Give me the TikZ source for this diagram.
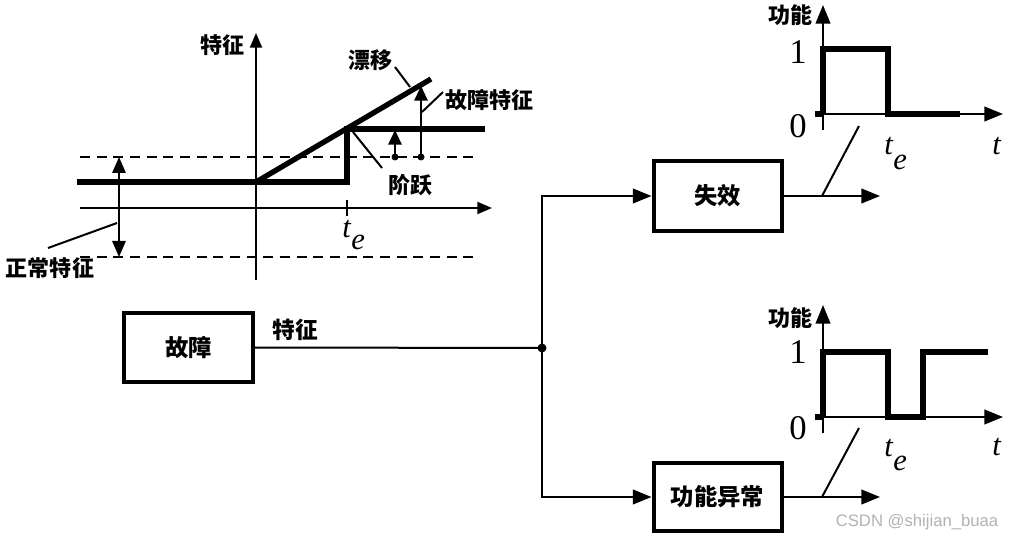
\documentclass[tikz,border=0pt]{standalone}
\usepackage{fontspec}
\setmainfont{Liberation Serif}
\newfontfamily\cjk{Noto Sans CJK SC}
\newfontfamily\wmfont{Liberation Sans}
\usetikzlibrary{arrows.meta}
\tikzset{
  ln/.style={line width=1.5pt},
  fn/.style={line width=4pt},
  dsh/.style={line width=1.5pt, dash pattern=on 7.5pt off 5pt},
  bigtip/.style={-{Triangle[length=14pt,width=11pt]}},
  smtip/.style={-{Triangle[length=11pt,width=9pt]}},
  blk/.style={draw, line width=3pt, fill=white, font=\cjk\bfseries\fontsize{17.5}{19}\selectfont, inner sep=0pt},
  lbl/.style={font=\cjk\bfseries\fontsize{16.5}{18}\selectfont, inner sep=0pt},
  num/.style={font=\fontsize{26}{26}\selectfont, inner sep=0pt},
  tt/.style={font=\fontsize{23}{23}\selectfont\itshape, inner sep=0pt, anchor=base west},
  tes/.style={font=\fontsize{23}{23}\selectfont, inner sep=0pt, anchor=base west},
}
\newcommand{\tesub}[1]{\textit{t}\raisebox{-#1}{\textit{e}}}
\begin{document}
\begin{tikzpicture}[x=0.75pt,y=-0.75pt]
\useasboundingbox (0,0) rectangle (1013,541);

% ---------- top-left feature plot ----------
\coordinate (yb) at (256,280); \coordinate (yt) at (256,33);
\coordinate (xl) at (80,208);  \coordinate (xr) at (492,208);
\draw[ln,smtip] (yb) -- (yt);
\draw[ln,smtip] (xl) -- (xr);
\coordinate (tk1) at (347,200); \coordinate (tk2) at (347,216);
\draw[ln] (tk1) -- (tk2);
\coordinate (du1) at (80,157); \coordinate (du2) at (475,157);
\coordinate (dl1) at (80,257); \coordinate (dl2) at (475,257);
\draw[dsh] (du1) -- (du2);
\draw[dsh] (dl1) -- (dl2);
\coordinate (f0) at (77,182); \coordinate (f1) at (347,182);
\coordinate (f2) at (347,129); \coordinate (f3) at (485,129);
\draw[fn, line join=miter] (f0) -- (f1) -- (f2) -- (f3);
\coordinate (o) at (256,182); \coordinate (dr) at (431,79);
\draw[fn] (o) -- (dr);
\coordinate (da1) at (119,157); \coordinate (da2) at (119,257);
\draw[ln,{Triangle[length=12pt,width=10pt]}-{Triangle[length=12pt,width=10pt]}] (da1) -- (da2);
\coordinate (s0) at (395,157); \coordinate (s1) at (395,130);
\draw[ln,-{Triangle[length=11pt,width=10pt]}] (s0) -- (s1);
\fill (s0) circle (3.5);
\coordinate (b0) at (421,157); \coordinate (b1) at (421,86);
\draw[ln,-{Triangle[length=11pt,width=10pt]}] (b0) -- (b1);
\fill (b0) circle (3.5);

\node[lbl] (lf) at (222,45) {特征};
\node[lbl] (ldr) at (370,60) {漂移};
\node[lbl] (lgz) at (489,100) {故障特征};
\node[lbl] (ljy) at (410,185) {阶跃};
\node[lbl] (lzc) at (50,268) {正常特征};
\node[tes] (te0) at (342,238) {\tesub{9pt}};

\coordinate (c1) at (48,248); \coordinate (c2) at (117,223);
\draw[ln] (c1) -- (c2);
\coordinate (c3) at (395,67); \coordinate (c4) at (410,87);
\draw[ln] (c3) -- (c4);
\coordinate (c5) at (443,92); \coordinate (c6) at (422,112);
\draw[ln] (c5) -- (c6);
\coordinate (c7) at (353,132); \coordinate (c8) at (382,168);
\draw[ln] (c7) -- (c8);

% ---------- block diagram ----------
\node[blk, minimum width=97pt, minimum height=51pt] (gz) at (188.5,347.5) {故障};
\node[blk, minimum width=96pt, minimum height=52pt] (sx) at (717.5,196) {失效};
\node[blk, minimum width=96pt, minimum height=51pt] (yc) at (717.5,497) {功能异常};
\coordinate (j) at (542,348);
\draw[ln] (gz.east) -- (j);
\fill (j) circle (4.5);
\draw[ln,bigtip] (j) |- (sx.west);
\draw[ln,bigtip] (j) |- (yc.west);
\node[lbl, font=\cjk\bfseries\fontsize{17}{18}\selectfont] (lfeat) at (295,330) {特征};

\coordinate (o1) at (880,196);
\draw[ln,bigtip] (sx.east) -- (o1);
\coordinate (o2) at (880,497);
\draw[ln,bigtip] (yc.east) -- (o2);
\coordinate (m1a) at (822,196); \coordinate (m1b) at (859,126);
\draw[ln] (m1a) -- (m1b);
\coordinate (m2a) at (822,497); \coordinate (m2b) at (859,428);
\draw[ln] (m2a) -- (m2b);

% ---------- function plot 1 ----------
\coordinate (p1yb) at (823,130); \coordinate (p1yt) at (823,5);
\coordinate (p1xl) at (815,114); \coordinate (p1xr) at (1003,114);
\draw[ln,bigtip] (p1yb) -- (p1yt);
\draw[ln,bigtip] (p1xl) -- (p1xr);
\coordinate (q0) at (823,114); \coordinate (q1) at (823,49);
\coordinate (q2) at (888,49); \coordinate (q3) at (888,114); \coordinate (q4) at (960,114);
\draw[fn, line join=miter] (q0) -- (q1) -- (q2) -- (q3) -- (q4);
\coordinate (q5) at (815,114);
\draw[fn] (q5) -- (q0);
\node[lbl] (pf1) at (790,15) {功能};
\node[num] (one1) at (798,52) {1};
\node[num] (zero1) at (798,126) {0};
\node[tes] (te1) at (884,155) {\tesub{11pt}};
\node[tt] (tt1) at (992,155) {t};

% ---------- function plot 2 ----------
\coordinate (p2yb) at (823,433); \coordinate (p2yt) at (823,305);
\coordinate (p2xl) at (815,417); \coordinate (p2xr) at (1003,417);
\draw[ln,bigtip] (p2yb) -- (p2yt);
\draw[ln,bigtip] (p2xl) -- (p2xr);
\coordinate (r0) at (823,417); \coordinate (r1) at (823,352);
\coordinate (r2) at (888,352); \coordinate (r3) at (888,417);
\coordinate (r4) at (923,417); \coordinate (r5) at (923,352); \coordinate (r6) at (988,352);
\draw[fn, line join=miter] (r0) -- (r1) -- (r2) -- (r3) -- (r4) -- (r5) -- (r6);
\coordinate (r7) at (815,417);
\draw[fn] (r7) -- (r0);
\node[lbl] (pf2) at (790,318) {功能};
\node[num] (one2) at (798,352) {1};
\node[num] (zero2) at (798,428) {0};
\node[tes] (te2) at (884,456) {\tesub{11pt}};
\node[tt] (tt2) at (992,455) {t};

% watermark
\node[font=\wmfont\fontsize{12.5}{13}\selectfont, text=black!30, inner sep=0pt] (wm) at (917,522) {CSDN @shijian\_buaa};
\end{tikzpicture}
\end{document}
